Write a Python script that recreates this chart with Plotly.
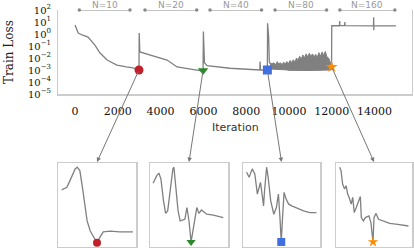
import math
import plotly.graph_objects as go

# ---------------- data ----------------
iters = [0, 150, 330, 610, 930, 1170, 1500, 1960, 2400, 2710, 2990,
         3000, 3030, 3500, 4300, 4770, 5230, 5840, 5985,
         6000, 6050, 6170, 7240, 8200, 8640, 8650, 8670, 8990,
         9000, 9050, 9080, 9120, 10000, 11000, 11990,
         12000, 12360, 12370, 12380, 12600, 12610, 12620, 13950, 13960, 13965, 13970, 15000]
loss = [5.6, 1.2, 0.83, 0.56, 0.12, 0.026, 0.0068, 0.0026, 0.0018, 0.0015, 0.0010,
        1.2, 0.032, 0.018, 0.0068, 0.0018, 0.0013, 0.0009, 0.0009,
        1.6, 0.004, 0.0023, 0.0014, 0.0011, 0.0010, 0.005, 0.0010, 0.0010,
        7.8, 0.63, 0.005, 0.0035, 0.0010, 0.00095, 0.0012,
        5.0, 4.9, 12.0, 4.9, 4.9, 10.0, 4.9, 4.8, 25.0, 2.1, 4.8, 4.7]

# noisy N=80 band (upper / lower envelopes)
band_iters = [9120, 9200, 9300, 9380, 9450, 9520, 9600, 9680, 9750, 9820, 9900, 9980,
              10050, 10120, 10200, 10280, 10350, 10420, 10500, 10570, 10650, 10720,
              10800, 10870, 10950, 11020, 11100, 11170, 11250, 11320, 11400, 11470,
              11550, 11620, 11700, 11770, 11850, 11920, 11990]
band_upper = [3.5e-3, 3.2e-3, 4.0e-3, 2.8e-3, 5.0e-3, 3.2e-3, 4.0e-3, 2.8e-3, 4.5e-3, 3.2e-3,
              5.0e-3, 3.5e-3, 6.3e-3, 4.0e-3, 7.1e-3, 4.5e-3, 1.0e-2, 6.3e-3, 1.4e-2, 7.9e-3,
              1.8e-2, 1.0e-2, 2.2e-2, 1.26e-2, 2.5e-2, 1.4e-2, 2.2e-2, 1.26e-2, 2.0e-2, 1.1e-2,
              2.8e-2, 1.4e-2, 3.2e-2, 1.6e-2, 3.5e-2, 1.26e-2, 1.0e-2, 5.0e-3, 2.5e-3]
band_lower_iters = [9120, 10000, 11000, 11990]
band_lower = [1.2e-3, 1.0e-3, 0.95e-3, 1.0e-3]

# markers at the end of each stage
marker_iters = [2990, 5985, 8990, 11995]
marker_loss = [1.0e-3, 0.9e-3, 1.0e-3, 1.8e-3]
marker_symbols = ["circle", "triangle-down", "square", "star"]
marker_colors = ["#c0202a", "#2a8a2a", "#3f6fe0", "#ff8c00"]

# stage brackets
stage_labels = ["N=10", "N=20", "N=40", "N=80", "N=160"]
stage_start = [200, 3270, 6310, 9350, 12380]
stage_end = [2570, 5690, 8720, 11760, 14950]

y_tickvals = [1e2, 1e1, 1e0, 1e-1, 1e-2, 1e-3, 1e-4, 1e-5]
y_ticktext = ["10<sup>2</sup>", "10<sup>1</sup>", "10<sup>0</sup>", "10<sup>\u22121</sup>",
              "10<sup>\u22122</sup>", "10<sup>\u22123</sup>", "10<sup>\u22124</sup>", "10<sup>\u22125</sup>"]
x_tickvals = [0, 2000, 4000, 6000, 8000, 10000, 12000, 14000]
x_ticktext = ["0", "2000", "4000", "6000", "8000", "10000", "12000", "14000"]

# zoomed insets (iteration offset around marker, relative loss)
inset_x = [
    [-68, -58, -52, -42, -38, -33, -28, -23, -19, -13, -7, 0, 6, 12, 25, 44, 69],
    [-69, -62, -58, -54, -49, -45, -41, -36, -31, -29, -25, -21, -17, -8, -4, 0, 4, 10, 15, 19, 24, 34, 47, 66],
    [-68, -63, -57, -52, -47, -44, -41, -37, -35, -33, -29, -26, -21, -18, -15, -10, -6, -3, -0.5, 2, 5, 9, 14, 20, 30, 43, 55, 68],
    [-68, -65, -62, -58, -55, -52, -49, -45, -42, -39, -35, -29, -27, -25, -21, -17, -10, -6, -2, 0, 4, 9, 19, 31, 47, 68],
]
inset_y = [
    [0.68, 0.71, 0.79, 0.93, 0.95, 0.91, 0.71, 0.51, 0.31, 0.19, 0.13, 0.05, 0.12, 0.18, 0.19, 0.18, 0.18],
    [0.76, 0.85, 0.88, 0.81, 0.55, 0.40, 0.43, 0.67, 0.93, 0.95, 0.71, 0.43, 0.31, 0.33, 0.47, 0.31, 0.06, 0.27, 0.47, 0.40, 0.44, 0.39, 0.38, 0.35],
    [0.89, 0.83, 0.93, 0.87, 0.63, 0.71, 0.77, 0.59, 0.49, 0.67, 0.95, 0.83, 0.55, 0.47, 0.39, 0.47, 0.63, 0.35, 0.06, 0.35, 0.65, 0.57, 0.51, 0.49, 0.46, 0.43, 0.41, 0.41],
    [0.95, 0.91, 0.75, 0.69, 0.73, 0.63, 0.59, 0.51, 0.59, 0.41, 0.47, 0.57, 0.60, 0.35, 0.31, 0.35, 0.37, 0.29, 0.06, 0.35, 0.40, 0.33, 0.31, 0.28, 0.27, 0.25],
]

# ---------------- layout geometry ----------------
W, H = 414, 248
X0, X1, Y0, Y1 = 58, 412, 10, 94          # main plot box in px
XR = [-795, 15750]
YR = [-5, 2]
inset_px = [(58, 136), (150, 228), (243, 320), (336, 412)]
INS_T, INS_B = 163, 247

GRAY = "#808080"
BOX = "#cccccc"
SERIF = "DejaVu Serif"

fig = go.Figure()

fig.add_trace(go.Scatter(x=iters, y=loss, mode="lines",
                         line=dict(color=GRAY, width=1.3), xaxis="x", yaxis="y"))
fig.add_trace(go.Scatter(x=band_lower_iters, y=band_lower, mode="lines",
                         line=dict(color=GRAY, width=1), xaxis="x", yaxis="y"))
fig.add_trace(go.Scatter(x=band_iters, y=band_upper, mode="lines", fill="tonexty",
                         fillcolor=GRAY, line=dict(color=GRAY, width=1), xaxis="x", yaxis="y"))
for i in range(4):
    fig.add_trace(go.Scatter(x=[marker_iters[i]], y=[marker_loss[i]], mode="markers",
                             marker=dict(symbol=marker_symbols[i], color=marker_colors[i], size=9,
                                         line=dict(width=0)),
                             cliponaxis=False, xaxis="x", yaxis="y"))

bx, by = [], []
for s, e in zip(stage_start, stage_end):
    bx += [s, e, None]
    by += [1e2, 1e2, None]
fig.add_trace(go.Scatter(x=bx, y=by, mode="lines+markers", cliponaxis=False,
                         line=dict(color="#888888", width=1),
                         marker=dict(size=3.5, color="#888888"), xaxis="x", yaxis="y"))

for k in range(4):
    ax_id = str(k + 2)
    fig.add_trace(go.Scatter(x=inset_x[k], y=inset_y[k], mode="lines",
                             line=dict(color=GRAY, width=1.3),
                             xaxis="x" + ax_id, yaxis="y" + ax_id))
    mi = inset_y[k].index(min(inset_y[k]))
    fig.add_trace(go.Scatter(x=[inset_x[k][mi]], y=[inset_y[k][mi]], mode="markers",
                             marker=dict(symbol=marker_symbols[k], color=marker_colors[k], size=8,
                                         line=dict(width=0)),
                             cliponaxis=False, xaxis="x" + ax_id, yaxis="y" + ax_id))

layout = dict(
    width=W, height=H, margin=dict(l=0, r=0, t=0, b=0, autoexpand=False),
    paper_bgcolor="white", plot_bgcolor="white", showlegend=False,
    xaxis=dict(domain=[X0 / W, X1 / W], range=XR, tickvals=x_tickvals, ticktext=x_ticktext,
               tickfont=dict(family=SERIF, size=11, color="#111"),
               showgrid=False, zeroline=False, showline=True, linecolor=BOX, linewidth=2,
               mirror=False, ticks="", ticklabelstandoff=6),
    yaxis=dict(domain=[1 - Y1 / H, 1 - Y0 / H], type="log", range=YR,
               tickvals=y_tickvals, ticktext=y_ticktext,
               tickfont=dict(family=SERIF, size=10, color="#111"),
               showgrid=False, zeroline=False, showline=True, linecolor=BOX, linewidth=1,
               mirror=True, ticks="", ticklabelstandoff=4),
)
for k in range(4):
    a, b = inset_px[k]
    layout["xaxis" + str(k + 2)] = dict(domain=[a / W, b / W], range=[-75, 75], anchor="y" + str(k + 2),
                                        showticklabels=False, showgrid=False, zeroline=False,
                                        showline=True, mirror=True, linecolor=BOX, linewidth=1.5, ticks="")
    layout["yaxis" + str(k + 2)] = dict(domain=[1 - INS_B / H, 1 - INS_T / H], range=[0, 1], anchor="x" + str(k + 2),
                                        showticklabels=False, showgrid=False, zeroline=False,
                                        showline=True, mirror=True, linecolor=BOX, linewidth=1.5, ticks="")
fig.update_layout(**layout)

annotations = []
for s, e, lab in zip(stage_start, stage_end, stage_labels):
    annotations.append(dict(x=(s + e) / 2, y=1 - 4.5 / H, xref="x", yref="paper", text=lab,
                            showarrow=False, font=dict(family="DejaVu Sans", size=9, color="#999999"),
                            xanchor="center", yanchor="middle"))
annotations.append(dict(x=9 / W, y=1 - 52 / H, xref="paper", yref="paper", text="Train Loss",
                        textangle=-90, showarrow=False, font=dict(family=SERIF, size=12, color="#222"),
                        xanchor="center", yanchor="middle"))
annotations.append(dict(x=((X0 + X1) / 2) / W, y=1 - 127 / H, xref="paper", yref="paper", text="Iteration",
                        showarrow=False, font=dict(family="DejaVu Sans", size=11, color="#333"),
                        xanchor="center", yanchor="middle"))
for k in range(4):
    a, b = inset_px[k]
    hx = (a + b) / 2
    hy = INS_T - 1
    tx = X0 + (marker_iters[k] - XR[0]) / (XR[1] - XR[0]) * (X1 - X0)
    ty = Y1 - (math.log10(marker_loss[k]) - YR[0]) / (YR[1] - YR[0]) * (Y1 - Y0)
    annotations.append(dict(x=hx / W, y=1 - hy / H, xref="paper", yref="paper", text="",
                            showarrow=True, arrowhead=2, arrowsize=0.9, arrowwidth=1, arrowcolor="#777777",
                            ax=tx - hx, ay=ty - hy, axref="pixel", ayref="pixel", standoff=0, startstandoff=0))
fig.update_layout(annotations=annotations)

fig.write_html("out.html", config={"displayModeBar": False, "staticPlot": True},
               post_script="document.body.style.margin='0';document.body.style.overflow='hidden';")
